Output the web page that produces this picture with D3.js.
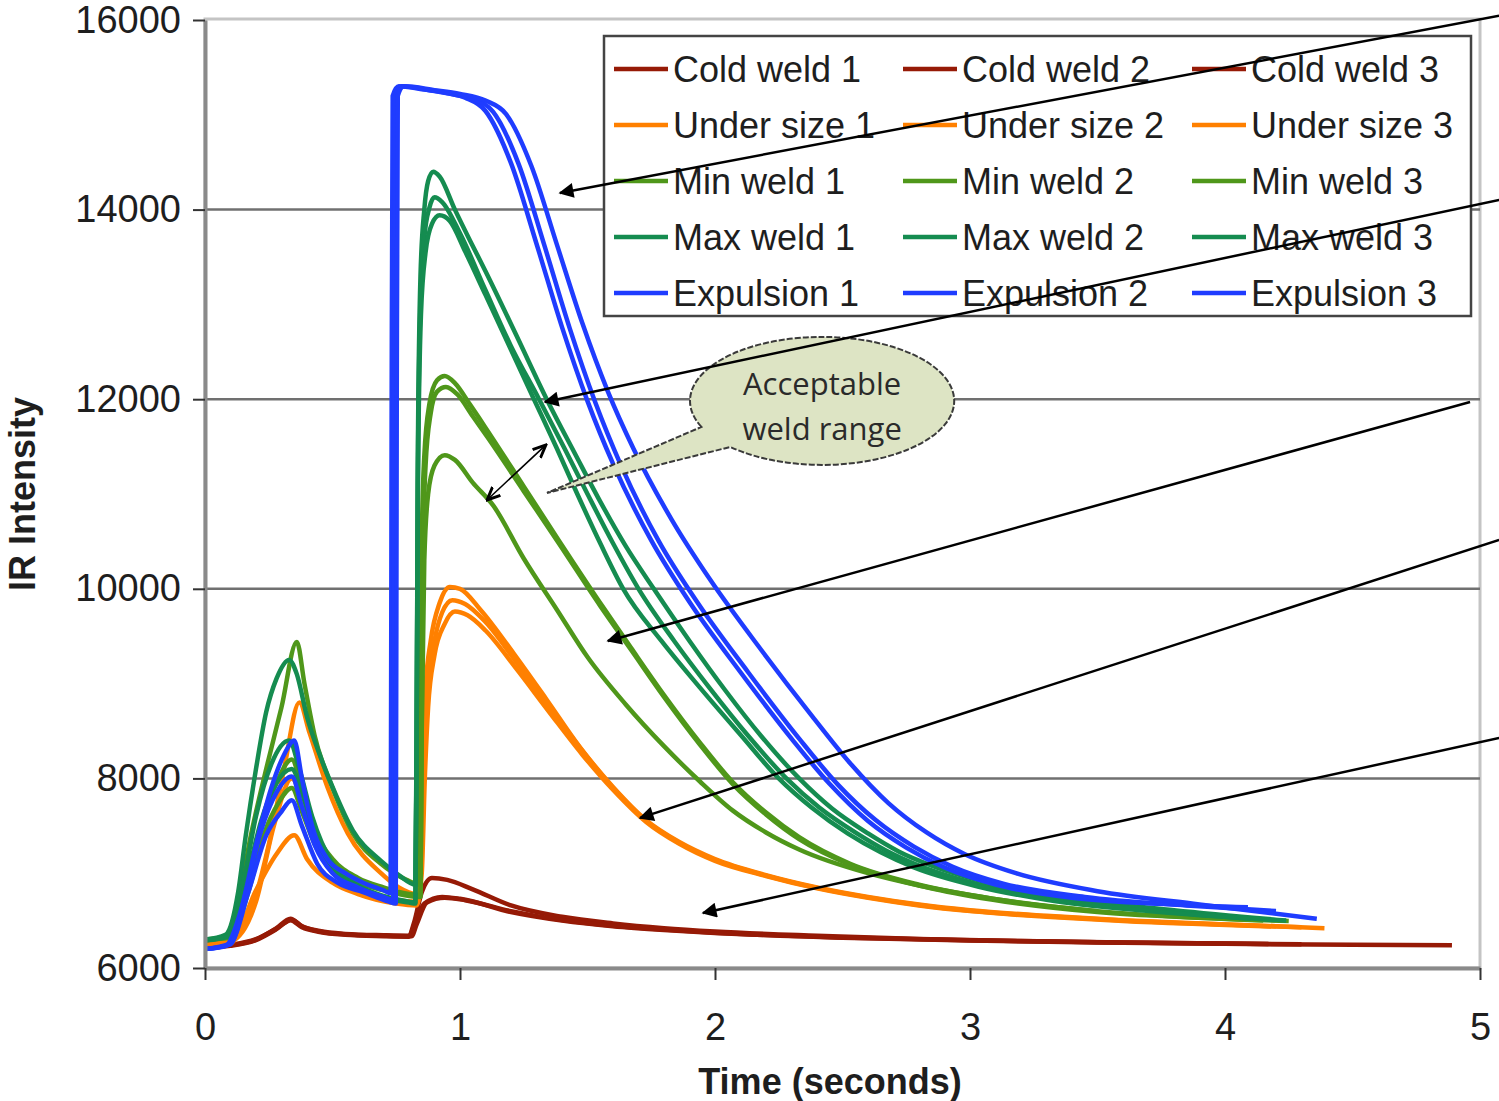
<!DOCTYPE html>
<html>
<head>
<meta charset="utf-8">
<script src="https://cdn.jsdelivr.net/npm/d3@7"></script>
<style>
  body { margin: 0; background: #fff; }
  text { font-family: "Liberation Sans", Arial, sans-serif; }
</style>
</head>
<body>
<div class="chart"></div>
<script>
// Axis ticks.
var xTicks = [0, 1, 2, 3, 4, 5];
var yTicks = [6000, 8000, 10000, 12000, 14000, 16000];
var gridValues = [8000, 10000, 12000, 14000];

// Series: [time (s), IR intensity].
var coldWeld1 = [[0,6220],[0.1,6240],[0.2,6300],[0.28,6420],[0.335,6520],[0.38,6440],[0.45,6390],[0.55,6360],[0.7,6345],[0.8,6340],[0.82,6480],[0.85,6800],[0.89,6950],[0.95,6930],[1.05,6830],[1.2,6660],[1.4,6540],[1.6,6470],[1.8,6420],[2.0,6385],[2.4,6340],[2.8,6305],[3.2,6285],[3.6,6270],[4.0,6258],[4.3,6250]];
var coldWeld2 = [[0,6215],[0.1,6235],[0.2,6295],[0.28,6410],[0.335,6505],[0.38,6430],[0.45,6380],[0.55,6350],[0.7,6335],[0.8,6330],[0.82,6450],[0.86,6680],[0.93,6750],[1.0,6730],[1.2,6590],[1.4,6500],[1.6,6440],[1.8,6400],[2.0,6370],[2.5,6320],[3.0,6290],[3.5,6270],[4.0,6255],[4.5,6245],[4.89,6240]];
var coldWeld3 = [[0,6225],[0.1,6245],[0.2,6305],[0.28,6415],[0.34,6510],[0.38,6440],[0.45,6385],[0.55,6355],[0.7,6340],[0.81,6335],[0.83,6460],[0.87,6690],[0.94,6740],[1.02,6715],[1.2,6600],[1.4,6505],[1.6,6445],[1.8,6405],[2.0,6372],[2.5,6322],[3.0,6292],[3.5,6272],[4.17,6252]];

var underSize1 = [[0,6260],[0.1,6300],[0.18,6600],[0.25,7300],[0.31,8100],[0.37,8800],[0.41,8480],[0.48,7910],[0.56,7420],[0.69,7000],[0.76,6850],[0.83,6780],[0.845,7300],[0.855,8300],[0.865,8950],[0.885,9450],[0.92,9850],[0.96,10020],[1.0,10000],[1.08,9780],[1.21,9320],[1.34,8830],[1.47,8330],[1.6,7910],[1.73,7560],[1.86,7330],[2.0,7150],[2.2,6980],[2.4,6850],[2.6,6750],[2.8,6670],[3.0,6610],[3.3,6550],[3.6,6505],[4.0,6460],[4.39,6420]];
var underSize2 = [[0,6250],[0.1,6280],[0.2,6700],[0.27,7500],[0.34,8000],[0.4,7600],[0.48,7150],[0.6,6850],[0.75,6720],[0.83,6700],[0.848,7100],[0.858,8100],[0.87,8850],[0.9,9450],[0.93,9750],[0.97,9880],[1.02,9840],[1.1,9650],[1.22,9230],[1.35,8760],[1.48,8290],[1.6,7900],[1.73,7550],[1.86,7320],[2.0,7140],[2.2,6975],[2.4,6845],[2.6,6745],[2.8,6665],[3.0,6605],[3.3,6545],[3.6,6500],[4.2,6440]];
var underSize3 = [[0,6240],[0.1,6260],[0.2,6820],[0.28,7200],[0.35,7400],[0.4,7150],[0.5,6900],[0.6,6780],[0.75,6680],[0.83,6660],[0.85,7000],[0.862,8000],[0.875,8750],[0.9,9300],[0.94,9630],[0.98,9760],[1.03,9720],[1.1,9560],[1.22,9160],[1.35,8700],[1.48,8250],[1.6,7880],[1.73,7540],[1.86,7310],[2.0,7130],[2.2,6970],[2.4,6840],[2.6,6740],[2.8,6660],[3.0,6600],[3.3,6540],[3.6,6495],[4.3,6430]];

var minWeld1 = [[0,6300],[0.08,6330],[0.13,6700],[0.18,7400],[0.24,8100],[0.3,8750],[0.36,9440],[0.39,9000],[0.43,8450],[0.5,7900],[0.58,7420],[0.69,7100],[0.79,6930],[0.84,6880],[0.845,8500],[0.85,10500],[0.86,11400],[0.88,11950],[0.91,12200],[0.94,12245],[0.98,12170],[1.04,11940],[1.1,11700],[1.25,11080],[1.39,10500],[1.55,9850],[1.67,9380],[1.8,8880],[1.94,8380],[2.07,7960],[2.2,7640],[2.33,7380],[2.53,7100],[2.8,6880],[3.0,6770],[3.25,6670],[3.5,6600]];
var minWeld2 = [[0,6300],[0.1,6330],[0.16,6800],[0.22,7500],[0.28,7950],[0.34,8200],[0.38,7900],[0.44,7400],[0.5,7150],[0.6,6950],[0.7,6850],[0.8,6780],[0.845,6770],[0.85,8600],[0.855,10400],[0.865,11300],[0.885,11850],[0.91,12080],[0.945,12130],[0.99,12050],[1.05,11820],[1.11,11590],[1.25,11030],[1.39,10470],[1.55,9820],[1.67,9360],[1.8,8860],[1.94,8360],[2.07,7940],[2.2,7620],[2.33,7360],[2.53,7090],[2.8,6870],[3.0,6760],[3.5,6590],[4.0,6520],[4.25,6495]];
var minWeld3 = [[0,6300],[0.1,6320],[0.17,6800],[0.23,7400],[0.29,7750],[0.34,7900],[0.38,7650],[0.44,7250],[0.5,7050],[0.6,6900],[0.7,6820],[0.8,6760],[0.845,6750],[0.85,8500],[0.86,10300],[0.875,11000],[0.9,11300],[0.94,11410],[0.98,11360],[1.05,11120],[1.13,10880],[1.25,10320],[1.38,9780],[1.5,9280],[1.65,8780],[1.8,8340],[1.94,7970],[2.07,7660],[2.2,7430],[2.33,7250],[2.6,7000],[2.8,6870],[3.0,6770],[3.5,6600],[4.15,6500]];

var maxWeld1 = [[0,6300],[0.08,6350],[0.13,6800],[0.16,7400],[0.2,8100],[0.24,8700],[0.28,9050],[0.33,9250],[0.36,9100],[0.4,8650],[0.45,8250],[0.5,7910],[0.58,7450],[0.69,7130],[0.76,6980],[0.825,6880],[0.83,8500],[0.835,11500],[0.845,13300],[0.86,14000],[0.875,14300],[0.895,14400],[0.92,14350],[0.98,14000],[1.04,13670],[1.1,13350],[1.22,12680],[1.34,12000],[1.45,11430],[1.55,10920],[1.65,10450],[1.76,10000],[1.9,9450],[2.04,8930],[2.18,8450],[2.33,8000],[2.46,7680],[2.6,7420],[2.72,7230],[2.85,7080],[3.1,6880],[3.4,6730],[3.8,6610],[4.24,6500]];
var maxWeld2 = [[0,6290],[0.1,6350],[0.15,6900],[0.2,7600],[0.26,8150],[0.33,8400],[0.37,8100],[0.42,7600],[0.5,7100],[0.6,6870],[0.7,6760],[0.8,6700],[0.825,6690],[0.83,8500],[0.835,11300],[0.845,13000],[0.86,13700],[0.88,14020],[0.9,14130],[0.93,14080],[1.0,13750],[1.1,13150],[1.2,12560],[1.31,12000],[1.41,11480],[1.5,11000],[1.6,10480],[1.7,10000],[1.84,9450],[1.98,8950],[2.13,8450],[2.28,8000],[2.41,7690],[2.55,7430],[2.67,7240],[2.8,7080],[3.05,6870],[3.35,6720],[3.7,6610],[4.1,6520]];
var maxWeld3 = [[0,6290],[0.1,6340],[0.16,6900],[0.22,7550],[0.28,7950],[0.34,8100],[0.38,7850],[0.43,7400],[0.5,7050],[0.6,6850],[0.7,6740],[0.8,6690],[0.825,6680],[0.83,8400],[0.835,11100],[0.847,12900],[0.865,13550],[0.89,13850],[0.92,13940],[0.96,13880],[1.02,13560],[1.1,13100],[1.2,12520],[1.29,12000],[1.38,11480],[1.46,11000],[1.55,10480],[1.64,10000],[1.79,9450],[1.94,8960],[2.1,8460],[2.25,8000],[2.38,7690],[2.52,7420],[2.65,7220],[2.78,7060],[3.03,6860],[3.3,6720],[3.7,6600],[4.2,6505]];

var expulsion1 = [[0,6200],[0.08,6230],[0.14,6600],[0.2,7300],[0.26,7900],[0.31,8250],[0.35,8400],[0.38,8000],[0.42,7500],[0.48,7150],[0.55,7000],[0.62,6900],[0.7,6820],[0.728,6790],[0.732,12000],[0.736,15200],[0.76,15300],[0.85,15270],[0.95,15230],[1.02,15180],[1.1,15040],[1.2,14490],[1.3,13640],[1.4,12760],[1.5,11980],[1.6,11320],[1.75,10510],[1.9,9860],[2.1,9120],[2.3,8420],[2.45,7940],[2.6,7550],[2.75,7270],[2.9,7060],[3.1,6880],[3.4,6740],[3.8,6670],[4.09,6640]];
var expulsion2 = [[0,6200],[0.1,6250],[0.16,6800],[0.22,7450],[0.28,7850],[0.34,8020],[0.38,7700],[0.43,7300],[0.5,7000],[0.6,6850],[0.7,6750],[0.738,6720],[0.742,12000],[0.746,15200],[0.77,15300],[0.9,15250],[1.0,15200],[1.05,15170],[1.13,15030],[1.23,14480],[1.33,13630],[1.43,12750],[1.53,11970],[1.63,11310],[1.78,10500],[1.93,9860],[2.13,9120],[2.33,8420],[2.48,7940],[2.63,7560],[2.78,7280],[2.93,7070],[3.13,6890],[3.45,6750],[3.85,6660],[4.2,6600]];
var expulsion3 = [[0,6200],[0.1,6260],[0.17,6800],[0.24,7400],[0.3,7650],[0.34,7770],[0.38,7500],[0.44,7100],[0.52,6900],[0.62,6800],[0.72,6700],[0.748,6680],[0.752,12000],[0.756,15200],[0.78,15300],[0.9,15260],[1.0,15220],[1.1,15150],[1.18,15010],[1.28,14460],[1.38,13630],[1.48,12800],[1.58,12080],[1.68,11480],[1.83,10730],[1.98,10100],[2.18,9360],[2.38,8660],[2.53,8160],[2.68,7740],[2.83,7430],[2.98,7200],[3.18,7000],[3.5,6810],[3.9,6670],[4.36,6520]];

var seriesNames = ["Cold weld 1", "Cold weld 2", "Cold weld 3",
                   "Under size 1", "Under size 2", "Under size 3",
                   "Min weld 1", "Min weld 2", "Min weld 3",
                   "Max weld 1", "Max weld 2", "Max weld 3",
                   "Expulsion 1", "Expulsion 2", "Expulsion 3"];
var seriesValues = [coldWeld1, coldWeld2, coldWeld3,
                    underSize1, underSize2, underSize3,
                    minWeld1, minWeld2, minWeld3,
                    maxWeld1, maxWeld2, maxWeld3,
                    expulsion1, expulsion2, expulsion3];
var groupColors = ["#961a06", "#ff8000", "#4f971a", "#158c50", "#1f3cff"];

// Annotation arrows in data units: [from, to].
var arrows = [
  [[5.075, 16044], [1.392, 14176]],
  [[5.075, 14102], [1.333, 11971]],
  [[4.961, 11971], [1.580, 9450]],
  [[5.075, 10515], [1.706, 7583]],
  [[5.075, 8427], [1.953, 6580]]
];
var rangeArrow = [[1.106, 10937], [1.337, 11518]];
var bubbleCenter = [2.42, 11982];
var bubbleRadius = [0.518, 675];
var bubbleTip = [1.341, 11011];
var bubbleLines = ["Acceptable", "weld range"];

// Define SVG dimensions.
var w = 1499,
    h = 1101;
var padLeft = 205, padRight = 19, padTop = 20, padBottom = 133;

var svg = d3.select(".chart").append("svg")
  .attr("width", w)
  .attr("height", h);

var xScale = d3.scaleLinear()
  .domain([0, 5])
  .range([padLeft, w - padRight]);

var yScale = d3.scaleLinear()
  .domain([6000, 16000])
  .range([h - padBottom, padTop]);

// Plot frame.
svg.append("rect")
  .attr("x", xScale(0))
  .attr("y", yScale(16000) - 1)
  .attr("width", xScale(5) - xScale(0))
  .attr("height", yScale(6000) - yScale(16000) + 1)
  .attr("fill", "none")
  .attr("stroke", "#c4c4c4")
  .attr("stroke-width", 3);

// Gridlines.
svg.selectAll("line.grid")
  .data(gridValues)
  .enter()
  .append("line")
  .attr("class", "grid")
  .attr("x1", xScale(0))
  .attr("x2", xScale(5))
  .attr("y1", function(d) { return yScale(d); })
  .attr("y2", function(d) { return yScale(d); })
  .attr("stroke", "#707070")
  .attr("stroke-width", 2.5);

// Curves.
var line = d3.line()
  .x(function(d) { return xScale(d[0]); })
  .y(function(d) { return yScale(d[1]); })
  .curve(d3.curveMonotoneX);

svg.selectAll("path.series")
  .data(seriesValues)
  .enter()
  .append("path")
  .attr("class", "series")
  .attr("d", line)
  .attr("fill", "none")
  .attr("stroke", function(d, i) { return groupColors[Math.floor(i / 3)]; })
  .attr("stroke-width", 4.5)
  .attr("stroke-linejoin", "round");

// Axes.
var yAxis = d3.axisLeft(yScale)
  .tickValues(yTicks)
  .tickSize(12)
  .tickSizeOuter(0)
  .tickPadding(12)
  .tickFormat(d3.format("d"));

var xAxis = d3.axisBottom(xScale)
  .tickValues(xTicks)
  .tickSize(12)
  .tickSizeOuter(0)
  .tickPadding(33)
  .tickFormat(d3.format("d"));

var gY = svg.append("g")
  .attr("class", "axisY")
  .attr("transform", "translate(" + padLeft + ",0)")
  .call(yAxis);

var gX = svg.append("g")
  .attr("class", "axisX")
  .attr("transform", "translate(0," + (h - padBottom) + ")")
  .call(xAxis);

[gX, gY].forEach(function(g) {
  g.select(".domain").attr("stroke", "#8a8a8a").attr("stroke-width", 4);
  g.selectAll(".tick line").attr("stroke", "#333").attr("stroke-width", 2);
  g.selectAll(".tick text")
    .attr("fill", "#1e1e1e")
    .style("font-family", "'Liberation Sans', Arial, sans-serif")
    .style("font-size", "38px");
});

// Axis titles.
svg.append("text")
  .attr("x", 830)
  .attr("y", 1094)
  .style("text-anchor", "middle")
  .style("font-size", "36px")
  .style("font-weight", "bold")
  .attr("fill", "#1e1e1e")
  .text("Time (seconds)");

svg.append("text")
  .attr("transform", "translate(35," + yScale(11000) + ") rotate(-90)")
  .style("text-anchor", "middle")
  .style("font-size", "36px")
  .style("font-weight", "bold")
  .attr("fill", "#1e1e1e")
  .text("IR Intensity");

// Legend.
var legend = svg.append("g").attr("class", "legend");
legend.append("rect")
  .attr("x", 604)
  .attr("y", 36)
  .attr("width", 867)
  .attr("height", 280)
  .attr("fill", "#fff")
  .attr("stroke", "#444")
  .attr("stroke-width", 2.5);

var colX = [614, 903, 1192];
var items = legend.selectAll("g.item")
  .data(seriesNames)
  .enter()
  .append("g")
  .attr("class", "item")
  .attr("transform", function(d, i) {
    return "translate(" + colX[i % 3] + "," + (69 + 56 * Math.floor(i / 3)) + ")";
  });

items.append("line")
  .attr("x1", 0)
  .attr("x2", 54)
  .attr("stroke", function(d, i) { return groupColors[Math.floor(i / 3)]; })
  .attr("stroke-width", 4.5);

items.append("text")
  .attr("x", 59)
  .attr("dy", "0.36em")
  .style("font-size", "36px")
  .attr("fill", "#1e1e1e")
  .text(function(d) { return d; });

// Arrow markers.
var defs = svg.append("defs");
defs.append("marker")
  .attr("id", "head")
  .attr("viewBox", "0 0 10 10")
  .attr("refX", 9)
  .attr("refY", 5)
  .attr("markerWidth", 9)
  .attr("markerHeight", 6)
  .attr("orient", "auto")
  .append("path")
  .attr("d", "M0,0 L10,5 L0,10 z")
  .attr("fill", "#000");

defs.append("marker")
  .attr("id", "openHead")
  .attr("viewBox", "0 0 10 10")
  .attr("refX", 9)
  .attr("refY", 5)
  .attr("markerWidth", 9)
  .attr("markerHeight", 9)
  .attr("orient", "auto-start-reverse")
  .append("path")
  .attr("d", "M0,1 L9,5 L0,9")
  .attr("fill", "none")
  .attr("stroke", "#000")
  .attr("stroke-width", 2);

// Callout bubble.
var cx = xScale(bubbleCenter[0]),
    cy = yScale(bubbleCenter[1]),
    rx = xScale(bubbleCenter[0] + bubbleRadius[0]) - cx,
    ry = cy - yScale(bubbleCenter[1] + bubbleRadius[1]);
var a1 = 156 * Math.PI / 180,
    a2 = 134 * Math.PI / 180;
var p1 = [cx + rx * Math.cos(a1), cy + ry * Math.sin(a1)],
    p2 = [cx + rx * Math.cos(a2), cy + ry * Math.sin(a2)];

svg.append("path")
  .attr("d", "M" + p1[0] + "," + p1[1] +
             " A" + rx + "," + ry + " 0 1 1 " + p2[0] + "," + p2[1] +
             " L" + xScale(bubbleTip[0]) + "," + yScale(bubbleTip[1]) + " Z")
  .attr("fill", "#dde4c4")
  .attr("stroke", "#3a3a3a")
  .attr("stroke-width", 2)
  .attr("stroke-dasharray", "6,2");

svg.selectAll("text.bubble")
  .data(bubbleLines)
  .enter()
  .append("text")
  .attr("class", "bubble")
  .attr("x", cx)
  .attr("y", function(d, i) { return cy - 6 + 45 * i; })
  .style("text-anchor", "middle")
  .style("font-family", "'Open Sans', sans-serif")
  .style("font-size", "31px")
  .attr("fill", "#2a2a2a")
  .text(function(d) { return d; });

// Range arrow.
svg.append("line")
  .attr("x1", xScale(rangeArrow[0][0]))
  .attr("y1", yScale(rangeArrow[0][1]))
  .attr("x2", xScale(rangeArrow[1][0]))
  .attr("y2", yScale(rangeArrow[1][1]))
  .attr("stroke", "#000")
  .attr("stroke-width", 1.6)
  .attr("marker-start", "url(#openHead)")
  .attr("marker-end", "url(#openHead)");

// Pointer arrows.
svg.selectAll("line.pointer")
  .data(arrows)
  .enter()
  .append("line")
  .attr("class", "pointer")
  .attr("x1", function(d) { return xScale(d[0][0]); })
  .attr("y1", function(d) { return yScale(d[0][1]); })
  .attr("x2", function(d) { return xScale(d[1][0]); })
  .attr("y2", function(d) { return yScale(d[1][1]); })
  .attr("stroke", "#000")
  .attr("stroke-width", 2.5)
  .attr("marker-end", "url(#head)");
</script>
</body>
</html>
